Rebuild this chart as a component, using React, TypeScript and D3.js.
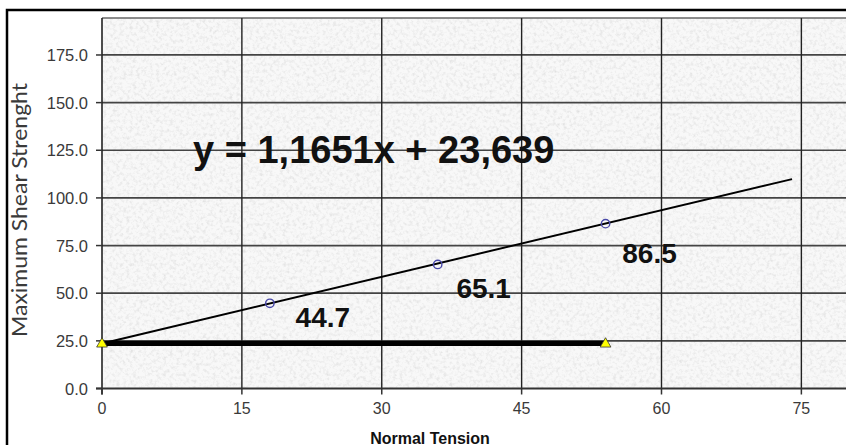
import React from "react";
import * as d3 from "d3";

// Normal tension vs. maximum shear strength samples
const normalTension = [18, 36, 54];
const shearStrength = [44.7, 65.1, 86.5];

// Linear fit: y = slope * x + intercept
const slope = 1.1651;
const intercept = 23.639;
const fitRange = [0, 74];

// Cohesion baseline series (triangle markers)
const baselineX = [0, 54];

const xTicks = [0, 15, 30, 45, 60, 75];
const yTicks = [0, 25, 50, 75, 100, 125, 150, 175];

const equationText = "y = 1,1651x + 23,639";
const xTitle = "Normal Tension";
const yTitle = "Maximum Shear Strenght";

// pixel offsets of the value labels relative to their points
const labelOffsets: [number, number][] = [
  [53, 24],
  [46, 34],
  [44, 39],
];

const W = 846;
const H = 445;
const plot = { left: 102, top: 18, right: 848, bottom: 388.5 };

export default function App() {
  const x = d3.scaleLinear().domain([0, 80]).range([plot.left, plot.right]);
  const y = d3.scaleLinear().domain([0, 194.4]).range([plot.bottom, plot.top]);

  const fitLine = d3
    .line<number>()
    .x((d) => x(d))
    .y((d) => y(slope * d + intercept));

  const baseLine = d3
    .line<number>()
    .x((d) => x(d))
    .y(() => y(intercept));

  const tri = d3.symbol().type(d3.symbolTriangle).size(50)();

  const sans = "'Liberation Sans', Arial, sans-serif";

  return (
    <svg
      width={W}
      height={H}
      viewBox={`0 0 ${W} ${H}`}
      style={{ position: "fixed", left: 0, top: 0, background: "#fff" }}
    >
      <defs>
        <filter id="grain" x="0" y="0" width="100%" height="100%">
          <feTurbulence
            type="fractalNoise"
            baseFrequency="0.3"
            numOctaves={4}
            seed={7}
            result="noise"
          />
          <feColorMatrix
            in="noise"
            type="matrix"
            values="0 0 0 0 0.6  0 0 0 0 0.6  0 0 0 0 0.6  1.05 0 0 0 -0.47"
          />
        </filter>
        <clipPath id="plotClip">
          <rect
            x={plot.left}
            y={plot.top}
            width={plot.right - plot.left}
            height={plot.bottom - plot.top}
          />
        </clipPath>
      </defs>

      {/* chart frame */}
      <rect x={7} y={10} width={W + 10} height={H + 10} fill="#fff" stroke="#000" strokeWidth={2.5} />

      {/* plot area with textured fill */}
      <rect
        x={plot.left}
        y={plot.top}
        width={plot.right - plot.left}
        height={plot.bottom - plot.top}
        fill="#f8f8f8"
      />
      <rect
        x={plot.left}
        y={plot.top}
        width={plot.right - plot.left}
        height={plot.bottom - plot.top}
        filter="url(#grain)"
      />
      <line x1={plot.left} x2={plot.right} y1={plot.top} y2={plot.top} stroke="#666" strokeWidth={1.5} />

      {/* gridlines */}
      <g clipPath="url(#plotClip)">
        {yTicks.filter((t) => t > 0).map((t) => (
          <line key={"gy" + t} x1={plot.left} x2={plot.right} y1={y(t)} y2={y(t)} stroke="#444" strokeWidth={1.7} />
        ))}
        {xTicks.filter((t) => t > 0).map((t) => (
          <line key={"gx" + t} x1={x(t)} x2={x(t)} y1={plot.top} y2={plot.bottom} stroke="#222" strokeWidth={1.4} />
        ))}
      </g>

      {/* axes */}
      <line x1={plot.left} x2={plot.left} y1={plot.top} y2={plot.bottom + 6} stroke="#222" strokeWidth={1.6} />
      <line x1={plot.left - 6} x2={plot.right} y1={plot.bottom} y2={plot.bottom} stroke="#333" strokeWidth={1.8} />
      {yTicks.map((t) => (
        <g key={"yt" + t}>
          <line x1={plot.left - 6} x2={plot.left} y1={y(t)} y2={y(t)} stroke="#333" strokeWidth={1.5} />
          <text
            x={88}
            y={y(t) + 6}
            textAnchor="end"
            fontFamily={sans}
            fontSize={16.5}
            fill="#3a3a3a"
          >
            {d3.format(".1f")(t)}
          </text>
        </g>
      ))}
      {xTicks.map((t) => (
        <g key={"xt" + t}>
          <line x1={x(t)} x2={x(t)} y1={plot.bottom} y2={plot.bottom + 6} stroke="#333" strokeWidth={1.5} />
          <text x={x(t)} y={414} textAnchor="middle" fontFamily={sans} fontSize={16} fill="#3a3a3a">
            {t}
          </text>
        </g>
      ))}

      {/* axis titles */}
      <text
        transform={`translate(27,210) rotate(-90)`}
        textAnchor="middle"
        fontFamily="Lato, 'Open Sans', sans-serif"
        fontSize={21}
        fill="#3a3a3a"
        textLength={254}
        lengthAdjust="spacingAndGlyphs"
      >
        {yTitle}
      </text>
      <text x={430} y={443.5} textAnchor="middle" fontFamily={sans} fontWeight="bold" fontSize={16} fill="#111">
        {xTitle}
      </text>

      {/* cohesion baseline */}
      <path d={baseLine(baselineX) ?? ""} stroke="#000" strokeWidth={5} fill="none" />

      {/* linear fit */}
      <path d={fitLine(fitRange) ?? ""} stroke="#000" strokeWidth={2} fill="none" />

      {/* data points */}
      {normalTension.map((t, i) => (
        <circle
          key={"p" + i}
          cx={x(t)}
          cy={y(shearStrength[i])}
          r={4.2}
          fill="none"
          stroke="#4848a8"
          strokeWidth={1.4}
        />
      ))}

      {baselineX.map((t, i) => (
        <path
          key={"tri" + i}
          d={tri ?? ""}
          transform={`translate(${x(t)},${y(intercept) + 0.5})`}
          fill="#ffff00"
          stroke="#333"
          strokeWidth={0.8}
        />
      ))}

      {/* value labels */}
      {normalTension.map((t, i) => (
        <text
          key={"lb" + i}
          x={x(t) + labelOffsets[i][0]}
          y={y(shearStrength[i]) + labelOffsets[i][1]}
          textAnchor="middle"
          fontFamily={sans}
          fontWeight="bold"
          fontSize={28}
          fill="#111"
        >
          {d3.format(".1f")(shearStrength[i])}
        </text>
      ))}

      {/* regression equation */}
      <text x={193} y={163} fontFamily={sans} fontWeight="bold" fontSize={38} fill="#111">
        {equationText}
      </text>
    </svg>
  );
}
